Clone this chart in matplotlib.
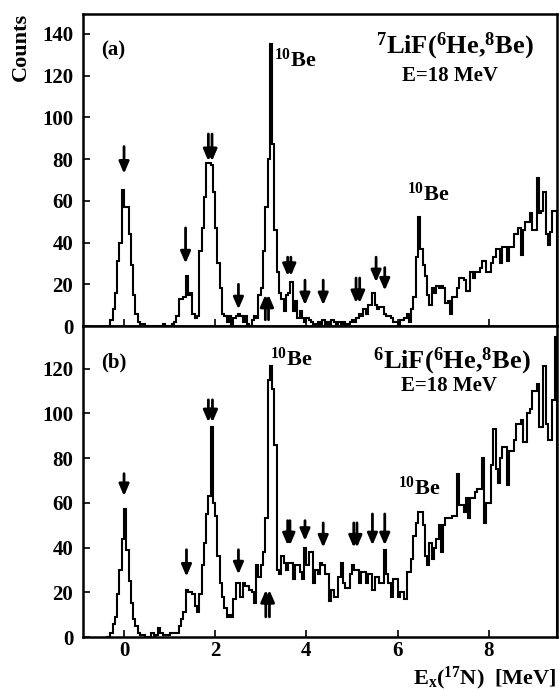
import matplotlib
matplotlib.use('Agg')
import matplotlib.pyplot as plt
import numpy as np

plt.rcParams['font.family'] = 'Liberation Serif'
plt.rcParams['font.weight'] = 'bold'
plt.rcParams['mathtext.fontset'] = 'custom'
plt.rcParams['mathtext.rm'] = 'Liberation Serif:bold'
plt.rcParams['mathtext.it'] = 'Liberation Serif:bold'
plt.rcParams['mathtext.bf'] = 'Liberation Serif:bold'
plt.rcParams['mathtext.default'] = 'rm'

# Binning of the spectra (MeV)
e_start = -0.4
bin_width = 0.05

# (a) 7LiF(6He,8Be) counts, one row per MeV
counts_a = (
    [0, 0, 3, 8, 16, 31, 40, 65]
    + [57, 57, 44, 29, 15, 6, 2, 1, 1, 0, 0, 0, 0, 0, 0, 0, 0, 1, 0, 0]
    + [0, 1, 2, 5, 13, 13, 14, 24, 15, 16, 6, 4, 5, 36, 47, 62, 78, 78, 77, 64]
    + [47, 30, 18, 6, 5, 2, 5, 1, 4, 5, 6, 5, 2, 5, 1, 0, 3, 5, 4, 15]
    + [18, 36, 57, 80, 135, 87, 46, 26, 16, 13, 7, 15, 16, 21, 7, 12, 4, 7, 4, 2]
    + [4, 3, 2, 1, 1, 2, 1, 3, 1, 2, 1, 3, 2, 1, 2, 1, 2, 0, 1, 2]
    + [3, 2, 4, 6, 5, 8, 6, 10, 10, 16, 10, 8, 9, 9, 6, 5, 5, 4, 2, 2]
    + [0, 3, 3, 4, 6, 2, 8, 14, 33, 52, 37, 29, 24, 15, 10, 18, 16, 19, 18, 19]
    + [18, 11, 12, 6, 14, 14, 18, 23, 23, 22, 17, 17, 26, 23, 26, 26, 28, 31, 31, 26]
    + [26, 30, 33, 37, 37, 30, 38, 38, 31, 38, 38, 44, 44, 47, 34, 46, 50, 50, 54, 46]
    + [46, 71, 54, 55, 64, 44, 39, 45, 55, 55]
)

# (b) 6LiF(6He,8Be) counts
counts_b = (
    [0, 0, 2, 6, 9, 19, 30, 44]
    + [57, 39, 25, 15, 8, 5, 2, 1, 1, 0, 0, 0, 2, 0, 1, 4, 2, 1, 1, 1]
    + [2, 2, 2, 2, 5, 8, 11, 21, 20, 20, 19, 14, 11, 19, 32, 42, 55, 63, 94, 60]
    + [54, 36, 24, 18, 13, 9, 10, 9, 17, 24, 24, 18, 24, 23, 23, 21, 20, 15, 32, 27]
    + [32, 38, 53, 115, 121, 111, 86, 30, 28, 36, 33, 30, 33, 33, 26, 32, 32, 29, 26, 40]
    + [32, 38, 38, 24, 30, 28, 33, 32, 28, 28, 16, 21, 18, 18, 27, 33, 24, 22, 22, 28]
    + [32, 30, 30, 24, 29, 29, 24, 28, 28, 21, 27, 27, 24, 24, 39, 28, 24, 18, 26, 26]
    + [18, 20, 20, 17, 29, 29, 35, 45, 51, 56, 56, 50, 36, 32, 42, 35, 40, 44, 50, 38]
    + [50, 53, 53, 53, 54, 54, 73, 59, 59, 56, 62, 53, 62, 62, 65, 66, 66, 80, 51, 60]
    + [60, 77, 93, 75, 69, 80, 85, 85, 68, 83, 83, 88, 95, 95, 97, 87, 87, 100, 102, 110]
    + [110, 113, 94, 94, 121, 95, 88, 88, 106, 134]
)

# state markers: (energy, arrow start, arrow tip)
arrows_a = [(0.0, 86, 73), (1.35, 47, 30), (2.51, 20, 8), (3.97, 22, 10),
            (4.37, 22, 10), (5.53, 33, 21), (5.72, 28, 17),
            (1.85, 92, 79), (1.93, 92, 79), (3.59, 33, 24), (3.66, 33, 24),
            (5.09, 23, 11), (5.17, 23, 11), (3.10, 3, 15), (3.17, 3, 15)]
arrows_b = [(0.0, 73, 63), (1.37, 39, 27), (2.51, 39, 28), (3.97, 52, 43),
            (4.37, 51, 40), (5.45, 55, 41), (5.72, 55, 41),
            (1.85, 106, 96), (1.94, 106, 96), (3.59, 52, 41), (3.64, 52, 41),
            (5.04, 51, 40), (5.11, 51, 40), (3.11, 9, 21), (3.19, 9, 21)]

edges = np.round(e_start + bin_width * np.arange(len(counts_a) + 1), 3)

fig = plt.figure(figsize=(5.59, 6.90), dpi=100)
ax_a = fig.add_axes([0.1485, 0.5275, 0.848, 0.4522])
ax_b = fig.add_axes([0.1485, 0.0768, 0.848, 0.4507], sharex=ax_a)

panels = [(ax_a, counts_a, arrows_a, 149.5), (ax_b, counts_b, arrows_b, 139)]
for ax, counts, arrows, ytop in panels:
    ax.stairs(counts, edges, color='black', lw=1.5, baseline=0)
    for x, y0, y1 in arrows:
        ax.annotate('', xy=(x, y1), xytext=(x, y0),
                    arrowprops=dict(arrowstyle='-|>,head_length=0.7,head_width=0.3',
                                    color='black', lw=2.0, shrinkA=0, shrinkB=0))
    ax.set_xlim(-0.9, 9.5)
    ax.set_ylim(0, ytop)
    ax.set_xticks([0, 2, 4, 6, 8])
    ax.set_yticks(np.arange(0, ytop, 20))
    ax.tick_params(direction='in', length=5, width=1.2, labelsize=15, pad=7)
    for s in ax.spines.values():
        s.set_linewidth(1.8)

ax_a.tick_params(labelbottom=False)
ax_b.tick_params(axis='x', pad=3)

ax_a.text(-0.5, 132, '(a)', fontsize=15, va='center')
ax_a.text(3.3, 124, r'$^{10}$Be', fontsize=16)
ax_a.text(7.25, 134, r'$^{7}$LiF($^{6}$He,$^{8}$Be)', fontsize=19, ha='center', va='center')
ax_a.text(7.16, 120, 'E=18 MeV', fontsize=15, ha='center', va='center')
ax_a.text(6.2, 60, r'$^{10}$Be', fontsize=16)

ax_b.text(-0.5, 122.6, '(b)', fontsize=15, va='center')
ax_b.text(3.2, 121, r'$^{10}$Be', fontsize=16)
ax_b.text(7.19, 123, r'$^{6}$LiF($^{6}$He,$^{8}$Be)', fontsize=19, ha='center', va='center')
ax_b.text(7.14, 112, 'E=18 MeV', fontsize=15, ha='center', va='center')
ax_b.text(6.0, 63.5, r'$^{10}$Be', fontsize=16)

fig.text(0.037, 0.932, 'Counts', rotation=90, fontsize=16, ha='center', va='center')
fig.text(0.996, 0.009, r'E$_{x}$($^{17}$N)  [MeV]', fontsize=16, ha='right', va='baseline')

fig.savefig('out.png', dpi=100)
